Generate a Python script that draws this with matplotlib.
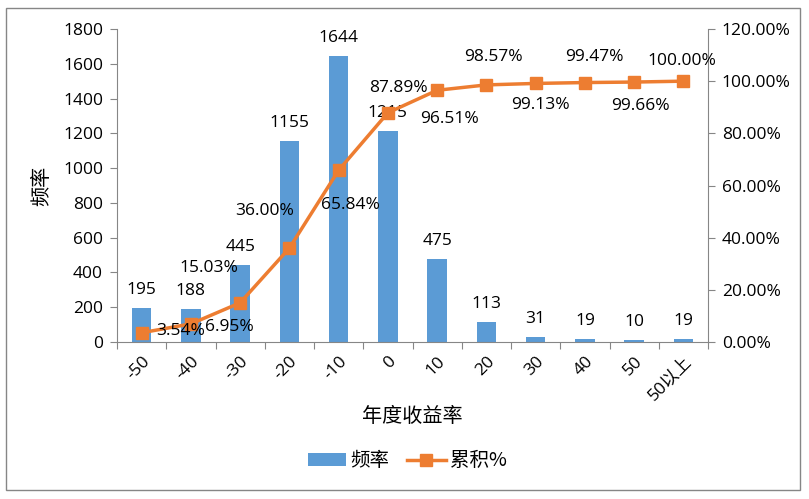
import numpy as np
import matplotlib
matplotlib.use("Agg")
import matplotlib.pyplot as plt
from matplotlib.patches import Rectangle
from matplotlib.ticker import FuncFormatter

plt.rcParams['font.family'] = ['Open Sans', 'Noto Sans CJK SC', 'DejaVu Sans']

categories = ["-50", "-40", "-30", "-20", "-10", "0", "10", "20", "30", "40", "50", "50以上"]
freq = [195, 188, 445, 1155, 1644, 1215, 475, 113, 31, 19, 10, 19]
cum_pct = [3.54, 6.95, 15.03, 36.00, 65.84, 87.89, 96.51, 98.57, 99.13, 99.47, 99.66, 100.00]
# label offsets (pixels) for the cumulative labels, as placed in the reference
cum_offsets = [(39, 2), (39, -3), (-31, 35), (-25, 37), (12, -35), (11, 25),
               (12, -29), (7, 28), (5, -22), (10, 26), (6, -24), (-2, 20)]

blue = "#5B9BD5"
orange = "#ED7D31"
gray = "#868686"
fs = 12.5
cjk = ['Noto Sans CJK SC']

fig = plt.figure(figsize=(8.09, 4.99), dpi=100)
fig.patches.append(Rectangle((6/809, 1-490/499), 794/809, 482/499, transform=fig.transFigure,
                             fill=False, edgecolor=gray, linewidth=1))
ax = fig.add_axes([117/809, 1-342/499, 591/809, 313/499])
x = np.arange(len(categories))

bars = ax.bar(x, freq, width=0.4, color=blue, label="频率", zorder=2)
for xi, v in zip(x, freq):
    ax.annotate(str(v), (xi, v), xytext=(0, 18), textcoords='offset pixels',
                ha='center', va='center', fontsize=fs, color='black')

ax.set_xlim(-0.5, len(categories) - 0.5)
ax.set_ylim(0, 1800)
ax.set_yticks(range(0, 1801, 200))
ax.set_xticks(np.arange(-0.5, len(categories)), minor=False)
ax.set_xticklabels([])
ax.set_xticks(x, minor=True)
ax.set_xticklabels(categories, minor=True, rotation=45, ha='right', va='top',
                   rotation_mode='anchor', fontsize=fs)
ax.tick_params(axis='x', which='minor', length=0, pad=8)
ax.tick_params(axis='x', which='major', length=5, color=gray, direction='out')
ax.tick_params(axis='y', length=5, color=gray, labelsize=fs, pad=5)
for s in ['top', 'right']:
    ax.spines[s].set_visible(False)
for s in ['left', 'bottom']:
    ax.spines[s].set_color(gray)
ax.set_ylabel("频率", fontsize=14.5, labelpad=8, family=cjk)
ax.set_xlabel("年度收益率", fontsize=14.5, labelpad=2, family=cjk)

ax2 = ax.twinx()
line, = ax2.plot(x, cum_pct, color=orange, linewidth=2.5, marker='s', markersize=8,
                 label="累积%", zorder=3)
for xi, v, (dx, dy) in zip(x, cum_pct, cum_offsets):
    ax2.annotate(f"{v:.2f}%", (xi, v), xytext=(dx, dy), textcoords='offset pixels',
                 ha='center', va='center', fontsize=fs, color='black')
ax2.set_ylim(0, 120)
ax2.set_yticks(range(0, 121, 20))
ax2.yaxis.set_major_formatter(FuncFormatter(lambda v, p: f"{v:.2f}%"))
ax2.tick_params(axis='y', length=5, color=gray, labelsize=fs, pad=5)
for s in ['top', 'left', 'bottom']:
    ax2.spines[s].set_visible(False)
ax2.spines['right'].set_color(gray)

fig.legend([bars, line], ["频率", "累积%"], loc='center', bbox_to_anchor=(407/809, 1-461/499),
           ncol=2, frameon=False, prop={'family': cjk, 'size': 14},
           handlelength=2, handletextpad=0.2, columnspacing=0.9, handleheight=0.6)

fig.savefig("out.png", dpi=100)
